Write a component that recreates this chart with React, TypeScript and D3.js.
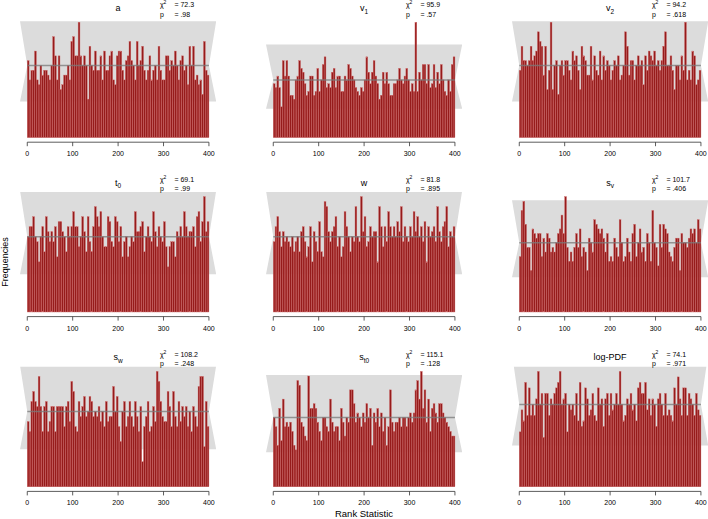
import React from "react";
import * as d3 from "d3";

// panel labels (main symbol + subscript), test statistics
const panelNames = ["a", "v", "v", "t", "w", "s", "s", "s", "log-PDF"];
const panelSubs = ["", "1", "2", "0", "", "v", "w", "t0", ""];
const chiSquare = ["72.3", "95.9", "94.2", "69.1", "81.8", "101.7", "108.2", "115.1", "74.1"];
const pValues = [".98", ".57", ".618", ".99", ".895", ".406", ".248", ".128", ".971"];

const xTicks = [0, 100, 200, 300, 400];
const binWidth = 4;
const expected = 15; // expected count per bin
const lowerBound = 7.5;
const upperBound = 24.2;

// counts per rank bin (100 bins of width 4)
const countsA = [
  16, 12, 14, 14, 18, 12, 11, 15, 13, 14,
  14, 13, 12, 15, 21, 17, 12, 17, 10, 11,
  13, 13, 15, 12, 20, 21, 17, 17, 24, 17,
  15, 17, 15, 8, 19, 15, 14, 18, 14, 14,
  17, 12, 18, 14, 14, 17, 18, 12, 11, 17,
  18, 18, 14, 12, 16, 17, 20, 16, 15, 12,
  20, 15, 16, 19, 14, 12, 14, 17, 12, 14,
  15, 12, 19, 14, 12, 12, 17, 17, 14, 16,
  15, 18, 15, 12, 16, 17, 14, 15, 11, 19,
  15, 19, 12, 13, 11, 12, 9, 20, 14, 13,
];
const countsV1 = [
  14, 13, 16, 13, 8, 20, 16, 20, 16, 11,
  11, 10, 15, 16, 20, 18, 17, 14, 11, 12,
  16, 16, 11, 12, 18, 12, 15, 19, 21, 13,
  14, 13, 17, 18, 13, 16, 16, 12, 12, 16,
  15, 19, 18, 16, 15, 13, 12, 11, 13, 12,
  15, 21, 17, 14, 17, 20, 16, 14, 10, 11,
  17, 14, 17, 14, 11, 11, 14, 14, 15, 18,
  15, 14, 16, 18, 15, 12, 14, 12, 30, 12,
  17, 15, 19, 19, 14, 19, 13, 14, 19, 13,
  17, 14, 19, 15, 12, 11, 15, 12, 19, 21,
];
const countsV2 = [
  14, 19, 16, 16, 15, 16, 19, 16, 17, 18,
  22, 20, 19, 13, 19, 10, 14, 24, 10, 15,
  16, 9, 15, 16, 13, 16, 16, 14, 12, 18,
  16, 17, 14, 10, 19, 17, 16, 13, 13, 19,
  12, 17, 14, 13, 18, 12, 17, 14, 16, 15,
  12, 14, 16, 15, 17, 12, 13, 15, 22, 19,
  13, 16, 16, 12, 15, 17, 15, 16, 11, 17,
  14, 18, 17, 16, 18, 15, 16, 14, 16, 19,
  22, 15, 15, 17, 14, 10, 15, 15, 12, 17,
  14, 24, 12, 14, 12, 18, 17, 11, 12, 14,
];
const countsT0 = [
  15, 17, 17, 19, 15, 14, 10, 15, 17, 12,
  19, 16, 14, 16, 14, 17, 11, 18, 18, 16,
  15, 12, 17, 15, 17, 20, 17, 17, 13, 15,
  19, 16, 12, 19, 14, 12, 17, 21, 19, 17,
  20, 15, 13, 13, 19, 18, 14, 13, 19, 18,
  14, 17, 11, 14, 15, 11, 13, 15, 14, 20,
  16, 16, 17, 18, 12, 15, 17, 15, 14, 20,
  16, 13, 17, 15, 14, 18, 13, 9, 13, 14,
  14, 11, 16, 15, 17, 15, 20, 17, 15, 16,
  16, 17, 13, 19, 20, 14, 18, 23, 16, 18,
];
const countsW = [
  14, 17, 19, 16, 13, 16, 14, 15, 14, 13,
  15, 12, 14, 15, 12, 16, 17, 14, 11, 13,
  17, 10, 16, 14, 12, 18, 12, 11, 22, 21,
  16, 14, 16, 17, 19, 13, 15, 11, 13, 20,
  17, 15, 12, 15, 14, 21, 15, 14, 23, 16,
  19, 13, 14, 17, 15, 16, 16, 10, 21, 17,
  13, 17, 14, 20, 17, 15, 17, 15, 18, 16,
  21, 14, 17, 15, 14, 17, 15, 20, 16, 19,
  15, 17, 14, 18, 10, 17, 15, 16, 17, 14,
  21, 16, 14, 17, 18, 21, 13, 16, 15, 17,
];
const countsSv = [
  12, 22, 24, 19, 14, 14, 9, 18, 17, 16,
  17, 17, 12, 16, 13, 17, 16, 13, 14, 13,
  15, 17, 18, 21, 17, 25, 14, 11, 13, 11,
  14, 17, 14, 18, 12, 14, 13, 9, 16, 15,
  13, 20, 19, 18, 17, 18, 16, 13, 17, 11,
  12, 11, 16, 14, 12, 20, 15, 11, 12, 16,
  13, 11, 17, 19, 12, 15, 18, 13, 14, 11,
  17, 15, 11, 22, 15, 14, 10, 19, 14, 19,
  18, 17, 13, 12, 11, 14, 16, 16, 9, 17,
  15, 15, 14, 16, 18, 17, 18, 15, 20, 18,
];
const countsSw = [
  13, 11, 17, 19, 17, 16, 22, 16, 11, 16,
  17, 11, 13, 16, 16, 11, 16, 16, 16, 16,
  12, 16, 17, 13, 21, 19, 12, 11, 17, 14,
  16, 18, 14, 15, 18, 17, 14, 15, 14, 16,
  13, 15, 12, 17, 13, 14, 14, 20, 15, 18,
  12, 9, 15, 17, 12, 14, 17, 14, 12, 17,
  14, 11, 16, 5, 12, 14, 17, 11, 12, 16,
  13, 23, 21, 17, 14, 13, 13, 19, 16, 12,
  19, 14, 12, 17, 13, 16, 14, 16, 12, 15,
  11, 16, 14, 12, 20, 22, 22, 8, 17, 12,
];
const countsSt0 = [
  15, 13, 9, 17, 10, 19, 13, 14, 13, 14,
  12, 9, 8, 23, 22, 14, 13, 11, 10, 24,
  17, 17, 18, 17, 14, 12, 10, 15, 15, 13,
  12, 19, 14, 12, 13, 13, 10, 17, 14, 11,
  15, 14, 21, 21, 18, 14, 16, 15, 13, 16,
  14, 18, 15, 17, 9, 16, 14, 17, 13, 16,
  12, 15, 9, 13, 21, 14, 12, 14, 14, 15,
  13, 15, 15, 13, 15, 16, 14, 16, 21, 23,
  19, 25, 17, 21, 14, 19, 12, 17, 18, 16,
  14, 18, 18, 16, 15, 14, 13, 12, 11, 11,
];
const countsLogPdf = [
  10, 14, 12, 19, 13, 18, 13, 15, 13, 16,
  21, 15, 17, 9, 17, 17, 13, 16, 15, 17,
  18, 19, 21, 15, 16, 17, 10, 15, 14, 15,
  13, 17, 12, 19, 11, 12, 18, 16, 13, 14,
  17, 13, 12, 18, 15, 16, 11, 16, 17, 13,
  17, 14, 15, 17, 15, 21, 15, 12, 13, 16,
  15, 17, 14, 15, 12, 18, 19, 17, 17, 19,
  14, 16, 13, 16, 15, 11, 16, 17, 15, 13,
  17, 13, 14, 13, 12, 18, 15, 20, 16, 13,
  18, 18, 13, 17, 16, 15, 13, 17, 14, 13,
];

const panelCounts = [
  countsA, countsV1, countsV2,
  countsT0, countsW, countsSv,
  countsSw, countsSt0, countsLogPdf,
];

const WIDTH = 708;
const HEIGHT = 519;
const colLeft = [20, 266, 512];
const rowTop = [17.6, 192, 366.8];
const plotW = 196.2;
const plotH = 124.6;
const FONT = "'Liberation Sans', Arial, Helvetica, sans-serif";
const INK = "#000";

function Panel({ idx }: { idx: number }) {
  const counts = panelCounts[idx];
  const left = colLeft[idx % 3];
  const top = rowTop[Math.floor(idx / 3)];
  const bottom = top + plotH;

  // R style axis padding: 4% on each side
  const x = d3.scaleLinear().domain([-16, 416]).range([left, left + plotW]);
  const maxCount = d3.max(counts) as number;
  const y = d3
    .scaleLinear()
    .domain([-0.04 * maxCount, 1.04 * maxCount])
    .range([bottom, top]);

  const bandPts: [number, number][] = [
    [-16, lowerBound],
    [0, expected],
    [-16, upperBound],
    [416, upperBound],
    [400, expected],
    [416, lowerBound],
  ];
  const bandPath = d3
    .line<[number, number]>()
    .x((d) => x(d[0]))
    .y((d) => y(d[1]))(bandPts) + "Z";

  const clipId = `clip-${idx}`;
  const cx = x(200);
  const statX = x(292);

  return (
    <g>
      <defs>
        <clipPath id={clipId}>
          <rect x={left} y={top} width={plotW} height={plotH} />
        </clipPath>
      </defs>
      <path d={bandPath} fill="#dcdcdc" clipPath={`url(#${clipId})`} />
      {counts.map((c, i) => (
        <rect
          key={i}
          x={x(i * binWidth)}
          y={y(c)}
          width={x(binWidth) - x(0)}
          height={y(0) - y(c)}
          fill="#961b1b"
          stroke="#cf6a6a"
          strokeWidth={0.4}
        />
      ))}
      <line
        x1={x(0)}
        x2={x(400)}
        y1={y(expected)}
        y2={y(expected)}
        stroke="#7a7a7a"
        strokeOpacity={0.75}
        strokeWidth={1.5}
      />
      {/* x axis */}
      <line x1={x(0)} x2={x(400)} y1={bottom} y2={bottom} stroke="#333" strokeWidth={0.8} />
      {xTicks.map((t) => (
        <g key={t}>
          <line x1={x(t)} x2={x(t)} y1={bottom} y2={bottom + 4} stroke="#333" strokeWidth={0.8} />
          <text
            x={x(t)}
            y={bottom + 14}
            textAnchor="middle"
            fontSize={7}
            fontFamily={FONT}
            fill={INK}
          >
            {t}
          </text>
        </g>
      ))}
      {/* title */}
      <text x={cx} y={top - 6.5} textAnchor="middle" fontSize={9} fontFamily={FONT} fill={INK}>
        {panelNames[idx]}
        {panelSubs[idx] && (
          <tspan fontSize={6.5} dy={2.5}>
            {panelSubs[idx]}
          </tspan>
        )}
      </text>
      {/* chi-square statistic */}
      <text x={statX} y={top - 10.3} fontSize={7} fontFamily={FONT} fill={INK}>
        χ
        <tspan fontSize={5} dy={-3}>
          2
        </tspan>
      </text>
      <text x={statX + 14.5} y={top - 10.3} fontSize={7} fontFamily={FONT} fill={INK}>
        {"= " + chiSquare[idx]}
      </text>
      <text x={statX} y={top - 1} fontSize={7} fontFamily={FONT} fill={INK}>
        p
      </text>
      <text x={statX + 14.5} y={top - 1} fontSize={7} fontFamily={FONT} fill={INK}>
        {"= " + pValues[idx]}
      </text>
    </g>
  );
}

export default function App() {
  return (
    <svg
      width={WIDTH}
      height={HEIGHT}
      style={{ position: "absolute", left: 0, top: 0, background: "#fff" }}
    >
      <rect width={WIDTH} height={HEIGHT} fill="#fff" />
      {panelCounts.map((_, i) => (
        <Panel key={i} idx={i} />
      ))}
      <text
        transform={`translate(8,262) rotate(-90)`}
        textAnchor="middle"
        fontSize={9}
        fontFamily={FONT}
        fill={INK}
      >
        Frequencies
      </text>
      <text x={364} y={517} textAnchor="middle" fontSize={9.5} fontFamily={FONT} fill={INK}>
        Rank Statistic
      </text>
    </svg>
  );
}
